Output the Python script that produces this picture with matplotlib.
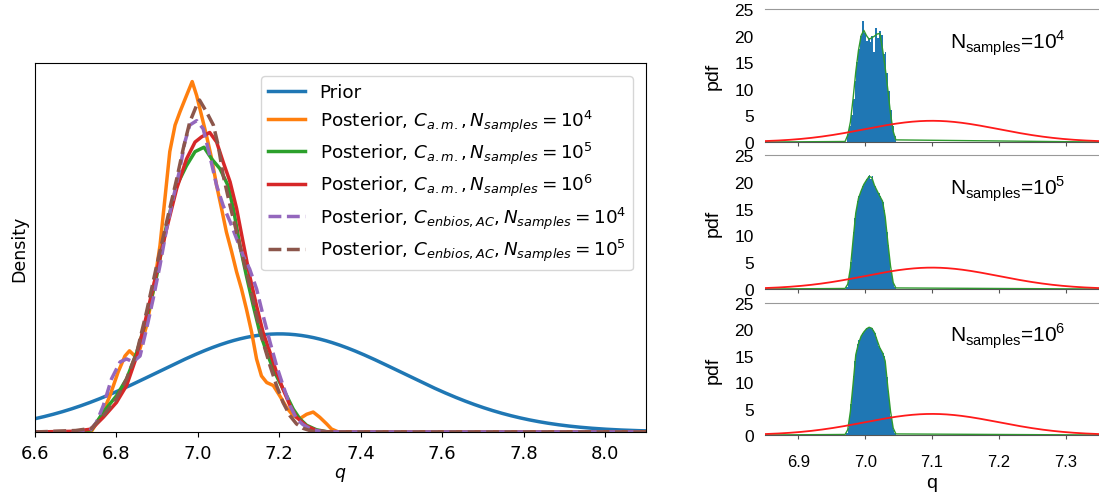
import numpy as np
import matplotlib
matplotlib.use("Agg")
import matplotlib.pyplot as plt

plt.rcParams["mathtext.fontset"] = "dejavusans"
plt.rcParams["mathtext.rm"] = "Liberation Sans"

# ---- left panel: prior and KDE posteriors -------------------------------
prior_mean, prior_sd = 7.2, 0.3

orange_q = [6.60, 6.70, 6.74, 6.763, 6.784, 6.804, 6.821, 6.832, 6.845, 6.858,
            6.874, 6.890, 6.907, 6.919, 6.931, 6.944, 6.956, 6.972, 6.986, 6.997,
            7.009, 7.021, 7.034, 7.046, 7.058, 7.070, 7.083, 7.095, 7.107, 7.119,
            7.132, 7.144, 7.156, 7.169, 7.185, 7.201, 7.218, 7.234, 7.250, 7.267,
            7.283, 7.299, 7.316, 7.328, 7.345, 8.10]
orange_d = [0.0, 0.0, 0.02, 0.22, 0.49, 0.81, 1.03, 1.10, 1.03, 1.13,
            1.44, 1.90, 2.53, 3.16, 3.80, 4.16, 4.34, 4.56, 4.75, 4.56,
            4.29, 4.02, 3.70, 3.34, 3.03, 2.71, 2.44, 2.17, 1.94, 1.67,
            1.35, 0.99, 0.76, 0.67, 0.63, 0.49, 0.33, 0.22, 0.18, 0.24,
            0.27, 0.20, 0.11, 0.04, 0.0, 0.0]

green_q = [6.60, 6.70, 6.739, 6.768, 6.800, 6.825, 6.850, 6.874, 6.899, 6.923,
           6.948, 6.972, 6.993, 7.015, 7.034, 7.054, 7.074, 7.087, 7.103, 7.119,
           7.136, 7.152, 7.169, 7.185, 7.201, 7.218, 7.234, 7.250, 7.267, 7.291,
           7.32, 8.10]
green_d = [0.0, 0.0, 0.03, 0.27, 0.49, 0.72, 1.08, 1.53, 2.12, 2.80,
           3.34, 3.61, 3.80, 3.86, 3.70, 3.57, 3.34, 3.03, 2.53, 2.12,
           1.71, 1.35, 1.08, 0.85, 0.67, 0.49, 0.31, 0.18, 0.09, 0.03,
           0.0, 0.0]

red_q = [6.60, 6.70, 6.739, 6.768, 6.800, 6.825, 6.850, 6.874, 6.899, 6.923,
         6.948, 6.972, 6.993, 7.009, 7.029, 7.046, 7.062, 7.079, 7.095, 7.111,
         7.127, 7.144, 7.160, 7.177, 7.193, 7.209, 7.226, 7.242, 7.267, 7.291,
         7.32, 8.10]
red_d = [0.0, 0.01, 0.04, 0.20, 0.40, 0.63, 1.03, 1.58, 2.17, 2.75,
         3.30, 3.70, 3.93, 4.00, 4.06, 3.93, 3.66, 3.39, 3.03, 2.57,
         2.12, 1.71, 1.35, 1.08, 0.81, 0.58, 0.36, 0.20, 0.08, 0.02,
         0.0, 0.0]

purple_q = [6.60, 6.70, 6.735, 6.751, 6.768, 6.788, 6.809, 6.825, 6.841, 6.858,
            6.874, 6.890, 6.907, 6.923, 6.939, 6.956, 6.968, 6.980, 6.997, 7.013,
            7.029, 7.046, 7.062, 7.079, 7.095, 7.111, 7.127, 7.144, 7.160, 7.177,
            7.193, 7.209, 7.226, 7.242, 7.258, 7.28, 7.31, 8.10]
purple_d = [0.0, 0.0, 0.02, 0.13, 0.36, 0.72, 0.95, 0.99, 0.95, 1.03,
            1.40, 1.80, 2.26, 2.75, 3.16, 3.57, 3.93, 4.16, 4.22, 4.11,
            3.75, 3.34, 3.07, 2.85, 2.62, 2.39, 2.21, 1.94, 1.58, 1.22,
            0.90, 0.63, 0.36, 0.18, 0.10, 0.03, 0.0, 0.0]

brown_q = [6.60, 6.70, 6.739, 6.768, 6.800, 6.825, 6.850, 6.874, 6.899, 6.923,
           6.948, 6.964, 6.980, 6.997, 7.004, 7.021, 7.038, 7.050, 7.062, 7.079,
           7.095, 7.111, 7.127, 7.144, 7.160, 7.177, 7.193, 7.209, 7.226, 7.242,
           7.258, 7.28, 7.30, 8.10]
brown_d = [0.0, 0.02, 0.05, 0.22, 0.45, 0.72, 1.08, 1.63, 2.26, 2.84,
           3.43, 3.84, 4.20, 4.43, 4.50, 4.34, 4.16, 3.88, 3.48, 3.07,
           2.71, 2.35, 1.99, 1.58, 1.22, 0.90, 0.63, 0.40, 0.22, 0.11,
           0.05, 0.01, 0.0, 0.0]

left_labels = [
    "Prior",
    r"Posterior, $C_{a.m.}, N_{samples} = 10^4$",
    r"Posterior, $C_{a.m.}, N_{samples} = 10^5$",
    r"Posterior, $C_{a.m.}, N_{samples} = 10^6$",
    r"Posterior, $C_{enbios,AC}, N_{samples} = 10^4$",
    r"Posterior, $C_{enbios,AC}, N_{samples} = 10^5$",
]

# ---- right panels: sample histograms, KDE, prior -------------------------
rprior_mean, rprior_sd = 7.1, 0.1
n_exponents = [4, 5, 6]

hist_start = [6.973, 6.9719, 6.9719]
hist_width = [0.0028, 0.002, 0.002]
hist_1e4 = [1.5, 3.0, 5.0, 8.0, 11.5, 15.0, 17.5, 20.0, 22.8, 20.5,
            19.0, 19.5, 18.8, 20.0, 17.0, 21.5, 19.5, 20.8, 20.2, 16.5,
            17.0, 13.0, 9.5, 6.0, 3.0, 1.2]
hist_1e5 = [0.4, 1.3, 2.8, 5.0, 7.8, 10.6, 13.2, 15.2, 16.5, 17.4,
            18.0, 18.7, 19.3, 19.8, 20.2, 20.5, 21.0, 21.3, 20.6, 21.0,
            20.0, 19.2, 18.4, 18.2, 17.9, 17.3, 16.8, 16.3, 14.8, 12.8,
            10.6, 8.2, 5.8, 3.6, 2.0, 1.0, 0.4]
hist_1e6 = [0.4, 1.3, 3.3, 5.8, 8.4, 11.2, 14.0, 16.0, 17.2, 17.9,
            18.4, 18.9, 19.4, 19.6, 19.9, 20.2, 20.3, 20.4, 20.3, 20.2,
            19.8, 19.3, 18.5, 17.7, 16.9, 16.4, 15.9, 15.5, 14.9, 13.3,
            11.0, 8.4, 5.9, 3.6, 2.0, 1.0, 0.4]

kde_q = [6.85, 6.970, 6.974, 6.978, 6.982, 6.986, 6.990, 6.994, 6.998, 7.002,
         7.006, 7.010, 7.014, 7.018, 7.022, 7.026, 7.030, 7.034, 7.038, 7.042,
         7.046, 7.35]
kde_1e4 = [0.0, 0.1, 1.3, 3.8, 8.2, 13.2, 17.2, 20.0, 21.0, 20.0,
           19.3, 19.6, 19.9, 20.3, 20.4, 17.5, 14.0, 9.8, 5.3, 2.0,
           0.4, 0.0]
kde_1e5 = [0.0, 0.1, 0.9, 3.9, 9.2, 14.2, 16.9, 18.3, 19.5, 20.3,
           21.0, 20.8, 19.3, 18.3, 17.3, 16.4, 13.5, 8.7, 4.3, 1.2,
           0.2, 0.0]
kde_1e6 = [0.0, 0.1, 1.0, 4.5, 9.7, 15.2, 17.3, 18.7, 19.5, 20.1,
           20.4, 20.2, 19.4, 17.9, 16.5, 15.6, 14.0, 9.0, 4.5, 1.3,
           0.2, 0.0]

hists = [hist_1e4, hist_1e5, hist_1e6]
kdes = [kde_1e4, kde_1e5, kde_1e6]


def normal_pdf(x, mu, sd):
    return np.exp(-0.5 * ((x - mu) / sd) ** 2) / (sd * np.sqrt(2 * np.pi))


fig = plt.figure(figsize=(10.99, 5.02), dpi=100)

# left panel
ax = fig.add_axes([0.0318, 0.1375, 0.556, 0.735])
xs = np.linspace(6.6, 8.1, 400)
lw = 2.5
ax.plot(xs, normal_pdf(xs, prior_mean, prior_sd), color="C0", lw=lw, label=left_labels[0])
ax.plot(orange_q, orange_d, color="C1", lw=lw, label=left_labels[1])
ax.plot(green_q, green_d, color="C2", lw=lw, label=left_labels[2])
ax.plot(red_q, red_d, color="C3", lw=lw, label=left_labels[3])
ax.plot(purple_q, purple_d, color="C4", lw=lw, ls="--", label=left_labels[4])
ax.plot(brown_q, brown_d, color="C5", lw=lw, ls="--", label=left_labels[5])
ax.set_xlim(6.6, 8.1)
ax.set_ylim(0, max(orange_d) * 1.053)
ax.set_xticks([6.6, 6.8, 7.0, 7.2, 7.4, 7.6, 7.8, 8.0])
ax.set_yticks([])
ax.tick_params(axis="x", labelsize=13, pad=5)
ax.set_xlabel("$q$", fontsize=12.5, labelpad=2)
ax.set_ylabel("Density", fontsize=12.5, labelpad=5)
ax.legend(loc="upper right", fontsize=13.2, handlelength=2.0, labelspacing=0.33,
          borderaxespad=0.7)

# right panels
arial = "Liberation Sans"
bottoms = [0.7151, 0.4223, 0.1315]
heights = [0.265, 0.267, 0.263]
xr = np.linspace(6.85, 7.35, 400)
for i, (b, h) in enumerate(zip(bottoms, heights)):
    axr = fig.add_axes([0.696, b, 0.304, h])
    edges = hist_start[i] + hist_width[i] * np.arange(len(hists[i]) + 1)
    axr.stairs(hists[i], edges, fill=True, color="#1f77b4", lw=0)
    axr.plot(kde_q, kdes[i], color="#2e9a2e", lw=1.0)
    axr.plot(xr, normal_pdf(xr, rprior_mean, rprior_sd), color="#ff1a1a", lw=1.3)
    axr.set_xlim(6.85, 7.35)
    axr.set_ylim(0, 25)
    axr.set_yticks([0, 5, 10, 15, 20, 25])
    axr.set_xticks([6.9, 7.0, 7.1, 7.2, 7.3])
    for side in ("left", "right"):
        axr.spines[side].set_visible(False)
    axr.spines["top"].set_color("#999999")
    axr.spines["bottom"].set_color("#555555")
    axr.tick_params(axis="y", length=0, pad=8, labelsize=12.5)
    axr.tick_params(axis="x", length=3, color="#555555", pad=11, labelsize=12)
    for lab in axr.get_xticklabels() + axr.get_yticklabels():
        lab.set_fontfamily(arial)
    if i < 2:
        axr.set_xticklabels([])
    else:
        axr.set_xlabel("q", fontsize=14, family=arial, labelpad=3)
    axr.set_ylabel("pdf", fontsize=14, family=arial, labelpad=9)
    axr.text(0.554, 0.707, r"N$_\mathrm{samples}$=10$^{%d}$" % n_exponents[i],
             transform=axr.transAxes, fontsize=15, family=arial,
             math_fontfamily="custom", va="baseline", ha="left")

fig.savefig("out.png", dpi=100)
